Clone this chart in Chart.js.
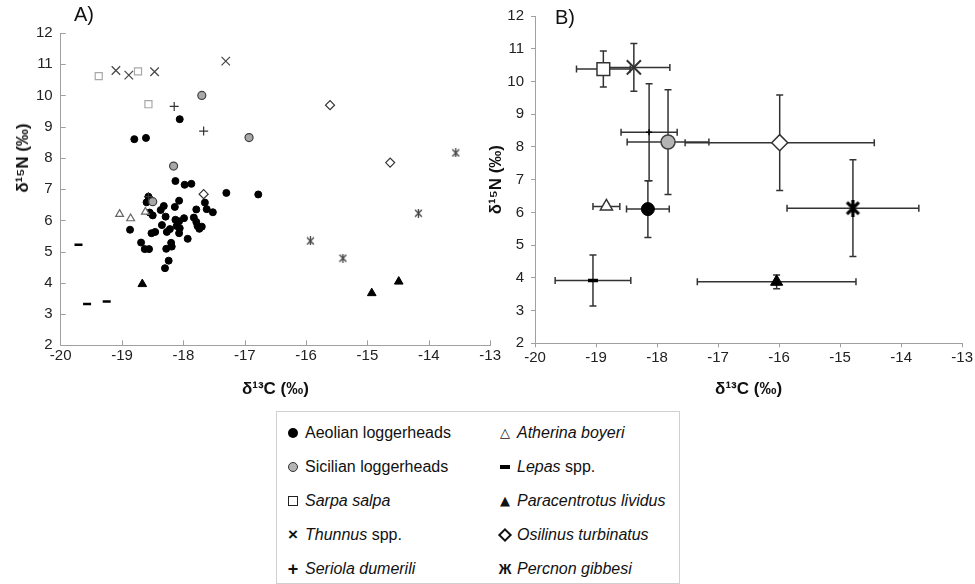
<!DOCTYPE html>
<html>
<head>
<meta charset="utf-8">
<script src="https://cdn.jsdelivr.net/npm/chart.js@4"></script>
<style>
  body { margin: 0; background: #fff; width: 975px; height: 584px; position: relative; overflow: hidden;
         font-family: "Liberation Sans", Arial, sans-serif; color: #111; }
  #chartA { position: absolute; left: 0; top: 0; }
  #chartB { position: absolute; left: 480px; top: 0; }
  .panel { position: absolute; font-size: 20px; }
  #ytitleA { position: absolute; left: 23px; top: 158px; transform: translate(-50%, -50%) rotate(-90deg);
             font-weight: bold; font-size: 17px; white-space: nowrap; }
  #legend { position: absolute; left: 276px; top: 411px; width: 402px; height: 171px;
            border: 1px solid #d0d0d0; font-size: 16px; }
  .item { position: absolute; height: 20px; line-height: 20px; white-space: nowrap; }
  .mk { position: absolute; left: 0; top: 50%; transform: translate(-50%, -50%); }
  .item span.t { position: absolute; left: 12px; top: 0; }
  i { font-style: italic; }
</style>
</head>
<body>
<canvas id="chartA" width="503" height="400"></canvas>
<canvas id="chartB" width="495" height="400"></canvas>
<div class="panel" style="left:74px; top:3px;">A)</div>
<div class="panel" style="left:555px; top:6px;">B)</div>
<div id="ytitleA">δ¹⁵N (‰)</div>
<div id="legend"></div>

<script>
// ---- data, panel A (individual samples, d13C / d15N) ----
const aeolian = [
  [-18.80, 8.60], [-18.61, 8.64], [-18.06, 9.24], [-18.13, 7.26], [-17.98, 7.14], [-17.87, 7.17],
  [-17.30, 6.88], [-16.78, 6.83], [-18.57, 6.76], [-18.60, 6.58], [-18.07, 6.63], [-18.55, 6.25],
  [-18.50, 6.16], [-18.32, 6.46], [-18.37, 6.33], [-18.14, 6.43], [-18.29, 6.12], [-18.13, 6.02],
  [-18.07, 5.97], [-17.99, 6.07], [-17.65, 6.57], [-17.79, 6.35], [-17.62, 6.36], [-17.52, 6.26],
  [-17.83, 6.09], [-17.79, 5.95], [-17.77, 5.82], [-17.74, 5.73], [-17.70, 5.80], [-18.11, 5.82],
  [-18.06, 5.75], [-18.22, 5.72], [-18.27, 5.63], [-18.35, 5.85], [-18.87, 5.70], [-18.52, 5.59],
  [-18.46, 5.63], [-18.07, 5.59], [-17.93, 5.41], [-18.69, 5.29], [-18.63, 5.08], [-18.56, 5.08],
  [-18.28, 5.09], [-18.20, 5.28], [-18.19, 5.16], [-18.24, 4.71], [-18.30, 4.47]
];
const sicilian = [[-17.70, 10.00], [-16.93, 8.65], [-18.16, 7.74], [-18.50, 6.60]];
const sarpa = [[-19.38, 10.62], [-18.74, 10.77], [-18.57, 9.72]];
const thunnus = [[-19.10, 10.80], [-18.89, 10.65], [-18.47, 10.76], [-17.31, 11.10]];
const seriola = [[-18.15, 9.65], [-17.67, 8.86], [-18.57, 6.76]];
const atherina = [[-19.04, 6.20], [-18.86, 6.06], [-18.62, 6.27]];
const lepas = [[-19.71, 5.22], [-19.57, 3.32], [-19.25, 3.40]];
const paracentrotus = [[-18.67, 3.96], [-14.93, 3.67], [-14.49, 4.04]];
const osilinus = [[-17.67, 6.84], [-15.61, 9.69], [-14.63, 7.85]];
const percnon = [[-15.93, 5.34], [-15.40, 4.79], [-14.17, 6.23], [-13.56, 8.16]];

// ---- data, panel B (means and SD) ----
const groups = ['Aeolian loggerheads', 'Sicilian loggerheads', 'Sarpa salpa', 'Thunnus spp.', 'Seriola dumerili',
                'Atherina boyeri', 'Lepas spp.', 'Paracentrotus lividus', 'Osilinus turbinatus', 'Percnon gibbesi'];
const meanX = [-18.15, -17.82, -18.88, -18.38, -18.13, -18.83, -19.05, -16.04, -15.99, -14.79];
const meanY = [6.10, 8.15, 10.38, 10.43, 8.45, 6.18, 3.92, 3.88, 8.13, 6.13];
const sdX = [0.35, 0.67, 0.44, 0.59, 0.46, 0.22, 0.62, 1.30, 1.55, 1.08];
const sdY = [0.87, 1.60, 0.55, 0.73, 1.48, 0.06, 0.78, 0.21, 1.46, 1.48];

// ---- axis ticks ----
const xMin = -20, xMax = -13;
const yMin = 2, yMax = 12;

const FONT = '"Liberation Sans", Arial, sans-serif';
const toPts = arr => arr.map(p => ({ x: p[0], y: p[1] }));

// excel-like star marker (x with a vertical bar)
function starMarker(size, lw, color) {
  const c = document.createElement('canvas');
  c.width = c.height = size;
  const g = c.getContext('2d');
  g.strokeStyle = color;
  g.lineWidth = lw;
  const m = lw * 0.8;
  g.beginPath();
  g.moveTo(m, m); g.lineTo(size - m, size - m);
  g.moveTo(size - m, m); g.lineTo(m, size - m);
  g.moveTo(size / 2, 0); g.lineTo(size / 2, size);
  g.stroke();
  return c;
}

// inside tick marks for panel A
const insideTicks = {
  id: 'insideTicks',
  afterDraw(chart, args, opts) {
    if (!opts.on) return;
    const { ctx, scales: { x, y } } = chart;
    ctx.save();
    ctx.strokeStyle = '#a0a0a0';
    ctx.lineWidth = 1;
    ctx.beginPath();
    for (let v = xMin + 1; v <= xMax; v++) {
      const px = Math.round(x.getPixelForValue(v)) + 0.5;
      ctx.moveTo(px, y.bottom); ctx.lineTo(px, y.bottom - 5);
    }
    for (let v = yMin + 1; v <= yMax; v++) {
      const py = Math.round(y.getPixelForValue(v)) + 0.5;
      ctx.moveTo(x.left, py); ctx.lineTo(x.left + 5, py);
    }
    ctx.stroke();
    ctx.restore();
  }
};

// error bars for panel B
const errorBars = {
  id: 'errorBars',
  beforeDatasetsDraw(chart) {
    const { ctx, scales: { x, y } } = chart;
    ctx.save();
    ctx.strokeStyle = '#333';
    ctx.lineWidth = 1.5;
    chart.data.datasets.forEach(ds => {
      if (ds.errX === undefined) return;
      const p = ds.data[0];
      const cx = x.getPixelForValue(p.x), cy = y.getPixelForValue(p.y);
      const x0 = x.getPixelForValue(p.x - ds.errX), x1 = x.getPixelForValue(p.x + ds.errX);
      const y0 = y.getPixelForValue(p.y - ds.errY), y1 = y.getPixelForValue(p.y + ds.errY);
      const cap = 3.5;
      ctx.beginPath();
      ctx.moveTo(x0, cy); ctx.lineTo(x1, cy);
      ctx.moveTo(x0, cy - cap); ctx.lineTo(x0, cy + cap);
      ctx.moveTo(x1, cy - cap); ctx.lineTo(x1, cy + cap);
      ctx.moveTo(cx, y0); ctx.lineTo(cx, y1);
      ctx.moveTo(cx - cap, y0); ctx.lineTo(cx + cap, y0);
      ctx.moveTo(cx - cap, y1); ctx.lineTo(cx + cap, y1);
      ctx.stroke();
    });
    ctx.restore();
  }
};

function axes(yWidth, xHeight, tickLen, yPad) {
  const tickStyle = { font: { family: FONT, size: 15 }, color: '#222' };
  return {
    x: {
      type: 'linear', min: xMin, max: xMax,
      border: { color: '#a0a0a0', width: 1 },
      grid: { display: tickLen > 0, drawOnChartArea: false, tickLength: tickLen, color: '#a0a0a0' },
      ticks: Object.assign({ stepSize: 1, padding: 2 }, tickStyle),
      title: { display: true, text: 'δ¹³C (‰)', font: { family: FONT, size: 17, weight: 'bold' }, color: '#111',
               padding: { top: 2, bottom: 0 } },
      afterFit: s => { s.height = xHeight; }
    },
    y: {
      type: 'linear', min: yMin, max: yMax,
      border: { color: '#a0a0a0', width: 1 },
      grid: { display: tickLen > 0, drawOnChartArea: false, tickLength: tickLen, color: '#a0a0a0' },
      ticks: Object.assign({ stepSize: 1, padding: yPad }, tickStyle),
      title: { display: false },
      afterFit: s => { s.width = yWidth; }
    }
  };
}

// ---- panel A ----
const styleA = [
  { data: aeolian, pointStyle: 'circle', radius: 3.5, bg: '#000', bc: '#000', bw: 1, order: 1 },
  { data: sicilian, pointStyle: 'circle', radius: 4, bg: '#a8a8a8', bc: '#404040', bw: 1.2 },
  { data: sarpa, pointStyle: 'rect', radius: 5, bg: '#fff', bc: '#a8a8a8', bw: 1.2 },
  { data: thunnus, pointStyle: 'crossRot', radius: 6, bg: '#444', bc: '#444', bw: 1.2 },
  { data: seriola, pointStyle: 'cross', radius: 4.5, bg: '#333', bc: '#333', bw: 1.2 },
  { data: atherina, pointStyle: 'triangle', radius: 4.5, bg: '#fff', bc: '#666', bw: 1.2 },
  { data: lepas, pointStyle: 'line', radius: 4, bg: '#000', bc: '#000', bw: 2.5 },
  { data: paracentrotus, pointStyle: 'triangle', radius: 5, bg: '#000', bc: '#000', bw: 1 },
  { data: osilinus, pointStyle: 'rectRot', radius: 4.5, bg: '#fff', bc: '#333', bw: 1.2 },
  { data: percnon, pointStyle: starMarker(9, 1.3, '#444'), radius: 5, bg: '#444', bc: '#444', bw: 1 }
];

new Chart(document.getElementById('chartA'), {
  type: 'scatter',
  data: {
    datasets: styleA.map((s, i) => ({
      label: groups[i],
      data: toPts(s.data),
      pointStyle: s.pointStyle,
      pointRadius: s.radius,
      pointBackgroundColor: s.bg,
      pointBorderColor: s.bc,
      pointBorderWidth: s.bw,
      order: s.order || 0
    }))
  },
  options: {
    responsive: false,
    animation: false,
    layout: { padding: { top: 33, right: 12, bottom: 0, left: 0 } },
    plugins: { legend: { display: false }, tooltip: { enabled: false }, insideTicks: { on: true } },
    scales: axes(60.7, 54.7, 0, 8)
  },
  plugins: [insideTicks]
});

// ---- panel B ----
const styleB = [
  { pointStyle: 'circle', radius: 6.5, bg: '#000', bc: '#000', bw: 1 },
  { pointStyle: 'circle', radius: 7, bg: '#b4b4b4', bc: '#404040', bw: 1.5 },
  { pointStyle: 'rect', radius: 9, bg: '#fff', bc: '#333', bw: 1.5 },
  { pointStyle: 'crossRot', radius: 10, bg: '#333', bc: '#333', bw: 2 },
  { pointStyle: 'cross', radius: 3, bg: '#000', bc: '#000', bw: 1.5 },
  { pointStyle: 'triangle', radius: 7, bg: '#fff', bc: '#333', bw: 1.5 },
  { pointStyle: 'line', radius: 5, bg: '#000', bc: '#000', bw: 3.5 },
  { pointStyle: 'triangle', radius: 7, bg: '#000', bc: '#000', bw: 1 },
  { pointStyle: 'rectRot', radius: 8, bg: '#fff', bc: '#333', bw: 1.5 },
  { pointStyle: starMarker(17, 3.2, '#000'), radius: 8, bg: '#000', bc: '#000', bw: 1 }
];

new Chart(document.getElementById('chartB'), {
  type: 'scatter',
  data: {
    datasets: styleB.map((s, i) => ({
      label: groups[i],
      data: [{ x: meanX[i], y: meanY[i] }],
      errX: sdX[i],
      errY: sdY[i],
      pointStyle: s.pointStyle,
      pointRadius: s.radius,
      pointBackgroundColor: s.bg,
      pointBorderColor: s.bc,
      pointBorderWidth: s.bw
    }))
  },
  options: {
    responsive: false,
    animation: false,
    layout: { padding: { top: 13.3, right: 12.7, bottom: 0, left: 0 } },
    plugins: { legend: { display: false }, tooltip: { enabled: false } },
    scales: (() => {
      const sc = axes(55, 56.7, 4, 7);
      sc.y.title = { display: true, text: 'δ¹⁵N (‰)', font: { family: FONT, size: 17, weight: 'bold' }, color: '#111',
                     padding: { top: 6, bottom: 0 } };
      sc.x.title.padding = { top: 1, bottom: 0 };
      return sc;
    })()
  },
  plugins: [errorBars]
});

// ---- legend ----
const legendMarks = [
  '<span class="mk" style="width:10px;height:10px;border-radius:50%;background:#000"></span>',
  '<span class="mk" style="width:8px;height:8px;border-radius:50%;background:#b4b4b4;border:1.5px solid #333"></span>',
  '<span class="mk" style="width:8px;height:8px;background:#fff;border:1.5px solid #222"></span>',
  '<span class="mk" style="font-size:17px;font-weight:bold">×</span>',
  '<span class="mk" style="font-size:18px;font-weight:bold">+</span>',
  '<span class="mk" style="font-size:13px;font-weight:bold;font-family:\'DejaVu Sans\'">△</span>',
  '<span class="mk" style="width:10px;height:4px;background:#000"></span>',
  '<span class="mk" style="font-size:13px;font-family:\'DejaVu Sans\'">▲</span>',
  '<span class="mk" style="width:6px;height:6px;background:#fff;border:2px solid #111;transform:translate(-50%,-50%) rotate(45deg)"></span>',
  '<span class="mk" style="font-size:14px;font-weight:bold">Ж</span>'
];
const legendText = [
  'Aeolian loggerheads', 'Sicilian loggerheads', '<i>Sarpa salpa</i>', '<i>Thunnus</i> spp.', '<i>Seriola dumerili</i>',
  '<i>Atherina boyeri</i>', '<i>Lepas</i> spp.', '<i>Paracentrotus lividus</i>', '<i>Osilinus turbinatus</i>', '<i>Percnon gibbesi</i>'
];
const legend = document.getElementById('legend');
legendText.forEach((t, i) => {
  const col = i < 5 ? 0 : 1, row = i % 5;
  const d = document.createElement('div');
  d.className = 'item';
  d.style.left = (col === 0 ? 16 : 228) + 'px';
  d.style.top = (11 + row * 34) + 'px';
  d.innerHTML = legendMarks[i] + '<span class="t">' + t + '</span>';
  legend.appendChild(d);
});
</script>
</body>
</html>
